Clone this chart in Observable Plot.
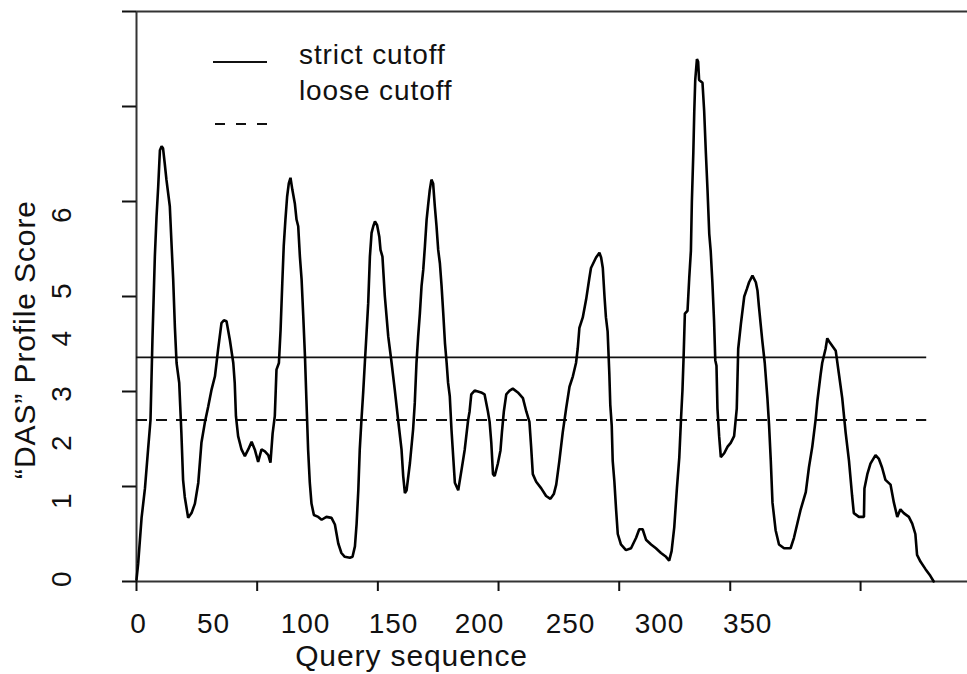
<!DOCTYPE html>
<html>
<head>
<meta charset="utf-8">
<script src="https://cdn.jsdelivr.net/npm/d3@7"></script>
<script src="https://cdn.jsdelivr.net/npm/@observablehq/plot@0.6"></script>
<style>
  html, body { margin: 0; padding: 0; background: #fff; }
  svg text { letter-spacing: 0.9px; }
</style>
</head>
<body>
<div id="chart"></div>
<script>
// ---- data (residue position along query sequence, DAS profile score) ----
const residue = [
  0, 0.7, 2.1, 3.5, 4.8, 5.8, 6.6, 7.6, 8.3, 9.0,
  9.7, 10.4, 11.0, 11.7, 12.4, 13.8, 14.5, 15.2, 15.9, 16.6,
  17.7, 18.6, 19.3, 20.0, 21.4, 22.8, 24.2, 25.6, 26.9, 28.3,
  29.7, 31.1, 32.5, 33.8, 35.2, 36.2, 37.3, 38.7, 40.1, 40.7,
  41.2, 42.1, 43.5, 44.9, 46.3, 47.7, 49.0, 50.4, 51.8, 53.2,
  54.6, 55.5, 56.4, 57.3, 58.0, 59.0, 59.7, 60.4, 61.0, 61.7,
  62.4, 63.1, 63.8, 64.6, 65.6, 66.3, 67.0, 67.7, 68.4, 69.1,
  69.8, 70.4, 71.1, 71.8, 72.5, 73.5, 75.3, 76.7, 78.7, 80.8,
  82.2, 83.6, 84.9, 86.3, 88.4, 89.5, 90.5, 91.2, 91.9, 92.5,
  93.2, 93.9, 94.6, 95.3, 96.0, 96.7, 97.4, 98.1, 98.8, 99.7,
  100.6, 101.1, 101.9, 102.9, 103.6, 104.3, 105.7, 107.0, 108.4, 109.8,
  110.5, 111.2, 111.9, 113.3, 114.6, 115.3, 116.0, 116.7, 117.4, 118.1,
  118.8, 119.5, 120.2, 120.9, 121.5, 122.2, 122.9, 123.6, 124.3, 125.0,
  125.7, 126.4, 127.1, 127.8, 128.5, 129.1, 129.8, 130.5, 131.2, 131.9,
  133.3, 134.7, 136.0, 137.4,
  138.0, 138.7, 140.1, 142.8, 144.2, 145.6, 146.3, 147.0, 147.7, 148.4,
  149.7, 150.8, 151.4, 152.2, 153.2, 154.6, 155.9, 158.0, 160.1, 161.5,
  162.8, 163.5, 164.2, 165.6, 167.7, 169.7, 171.5, 172.9, 173.9, 175.2,
  176.6, 178.0, 179.4, 180.8, 182.1, 182.8, 183.5, 184.9, 186.3, 187.6,
  188.3, 190.4, 191.8, 192.5, 193.2, 193.9, 194.5, 195.2, 195.9, 196.3,
  196.9, 197.3, 198.0, 198.7, 199.4, 200.7, 202.8, 204.9, 207.0, 208.3,
  209.7, 211.1, 213.2, 215.2, 217.3, 219.4, 220.7, 221.7, 222.8, 223.9,
  224.9, 225.6, 226.2, 226.7, 227.2, 228.3, 229.0, 229.7, 230.1, 230.7,
  231.1, 231.5, 232.2, 232.7, 233.1, 234.5, 235.2, 235.9, 236.6, 237.3,
  237.9, 238.6, 239.3, 239.8, 240.3, 240.7, 241.4, 242.1, 243.5, 244.9,
  246.2, 247.6, 248.7, 249.3, 250.4, 251.8, 252.9, 253.8, 255.2, 256.6,
  257.3, 257.9, 258.6, 259.3, 260.3, 261.4, 262.1, 262.8, 263.5, 264.8,
  266.2, 268.3, 271.0, 272.4, 273.8, 275.2, 277.3, 278.6, 280.0, 281.4,
  282.1, 283.5, 284.1, 285.5, 286.2, 286.9, 288.3, 289.7, 291.0, 292.4,
  293.8, 295.2, 296.5, 297.2, 299.3, 301.4, 301.6, 302.8, 304.1, 306.2,
  307.6, 308.9, 310.3, 312.4, 313.8, 315.2, 316.5, 317.9, 320.0, 321.4,
  322.7, 323.4, 324.8, 326.9, 328.9, 330.3
];
const score = [
  0.02, 0.19, 0.67, 0.98, 1.39, 1.70, 2.54, 3.42, 3.84, 4.16,
  4.54, 4.58, 4.56, 4.40, 4.23, 3.95, 3.56, 3.18, 2.68, 2.30,
  2.09, 1.56, 1.07, 0.89, 0.67, 0.72, 0.82, 1.04, 1.46, 1.67,
  1.84, 2.02, 2.16, 2.44, 2.72, 2.75, 2.74, 2.54, 2.30, 2.09,
  1.74, 1.53, 1.39, 1.32, 1.39, 1.47, 1.39, 1.26, 1.39, 1.37,
  1.33, 1.25, 1.56, 1.74, 2.23, 2.30, 2.65, 3.14, 3.53, 3.81,
  4.05, 4.19, 4.25, 4.12, 3.98, 3.81, 3.74, 3.42, 3.18, 2.79,
  2.37, 1.91, 1.39, 1.04, 0.82, 0.70, 0.68, 0.65, 0.68, 0.67,
  0.60, 0.40, 0.30, 0.26, 0.25, 0.26, 0.37, 0.61, 0.96, 1.39,
  1.70, 1.98, 2.30, 2.61, 2.93, 3.42, 3.67, 3.74, 3.79, 3.75,
  3.63, 3.49, 3.42, 3.00, 2.79, 2.58, 2.30, 2.02, 1.70, 1.39,
  1.11, 0.93, 0.96, 1.25, 1.60, 1.88, 2.30, 2.58, 2.82, 3.11,
  3.28, 3.53, 3.81, 3.98, 4.12, 4.23, 4.19, 3.95, 3.74, 3.49,
  3.35, 3.11, 2.82, 2.51, 2.30, 2.09, 1.95, 1.60, 1.32, 1.04,
  0.96, 1.18, 1.39, 1.70,
  1.79, 1.97, 2.01, 1.99, 1.97, 1.79, 1.68, 1.46, 1.13, 1.11,
  1.24, 1.38, 1.57, 1.79, 1.97, 2.01, 2.03, 1.99, 1.93, 1.79,
  1.68, 1.42, 1.13, 1.05, 0.98, 0.90, 0.87, 0.92, 1.02, 1.27,
  1.57, 1.82, 2.05, 2.16, 2.30, 2.45, 2.67, 2.78, 2.97, 3.19,
  3.30, 3.41, 3.46, 3.41, 3.30, 3.00, 2.78, 2.63, 2.19, 1.86,
  1.64, 1.27, 1.05, 0.76, 0.50, 0.39, 0.33, 0.35, 0.46, 0.55,
  0.55, 0.44, 0.39, 0.35, 0.30, 0.26, 0.22, 0.32, 0.57, 0.98,
  1.31, 1.71, 2.01, 2.38, 2.82, 2.85, 3.19, 3.48, 4.00, 4.51,
  4.95, 5.28, 5.50, 5.47, 5.28, 5.25, 4.95, 4.51, 4.11, 3.66,
  3.48, 3.15, 2.74, 2.33, 2.27, 1.82, 1.53, 1.31, 1.35, 1.42,
  1.46, 1.53, 1.82, 2.45, 2.71, 3.00, 3.08, 3.15, 3.22, 3.15,
  3.06, 2.89, 2.71, 2.53, 2.30, 1.93, 1.64, 1.27, 0.83, 0.54,
  0.39, 0.35, 0.35, 0.46, 0.61, 0.76, 0.94, 1.20, 1.42, 1.71,
  1.90, 2.19, 2.30, 2.45, 2.56, 2.53, 2.48, 2.43, 2.19, 1.93,
  1.57, 1.27, 0.90, 0.72, 0.68, 0.68, 0.98, 1.13, 1.24, 1.33,
  1.29, 1.20, 1.07, 1.02, 0.83, 0.68, 0.76, 0.72, 0.68, 0.61,
  0.50, 0.28, 0.21, 0.13, 0.06, 0.00
];

// cutoffs
const cutoffNames = ["strict cutoff", "loose cutoff"];
const cutoffScores = [2.36, 1.70];
const cutoffEnd = 327.4;

// axes (tick marks and tick labels as printed in the figure)
const xDomainMax = 344.3;
const yDomainMax = 6;
const xTicks = [0, 50, 100, 150, 200, 246, 300];
const xTickLabels = ["0", "50", "100", "150", "200", "250", "300", "350"];
const xTickLabelAt = [0.8, 31.9, 70.0, 106.5, 142.1, 179.8, 216.7, 253.2];
const yTicks = [0, 1, 2, 3, 4, 5, 6];
const yTickLabels = ["0", "1", "2", "3", "4", "5", "6"];
const yTickLabelAt = [0.03, 0.85, 1.46, 1.98, 2.56, 3.06, 3.86];
const xTitle = "Query sequence";
const yTitle = "\u201cDAS\u201d Profile Score";

// ---- build ----
const profile = residue.map((r, i) => ({residue: r, score: score[i]}));
const cutoffs = cutoffNames.map((n, i) => ({name: n, score: cutoffScores[i]}));
const xLabels = xTickLabels.map((t, i) => ({t, at: xTickLabelAt[i]}));
const yLabels = yTickLabels.map((t, i) => ({t, at: yTickLabelAt[i]}));

const FONT = "'Liberation Sans', Arial, Helvetica, sans-serif";
const INK = "#111";

function legendMark() {
  const g = d3.create("svg:g");
  g.append("line").attr("x1", 213).attr("x2", 267).attr("y1", 62).attr("y2", 62)
    .attr("stroke", INK).attr("stroke-width", 2);
  g.append("line").attr("x1", 215).attr("x2", 267).attr("y1", 124).attr("y2", 124)
    .attr("stroke", INK).attr("stroke-width", 2).attr("stroke-dasharray", "10,11");
  g.selectAll("text.lg").data(cutoffNames).join("text")
    .attr("class", "lg")
    .attr("x", 299).attr("y", (d, i) => 64 + i * 36)
    .attr("text-anchor", "start")
    .attr("font-size", 28).attr("font-family", FONT).attr("fill", INK)
    .text(d => d);
  return g.node();
}

const chart = Plot.plot({
  width: 967,
  height: 674,
  marginLeft: 136,
  marginRight: 0,
  marginTop: 11,
  marginBottom: 93,
  style: {fontFamily: FONT, fontSize: "28px", color: INK, background: "#fff"},
  x: {domain: [0, xDomainMax]},
  y: {domain: [0, yDomainMax]},
  marks: [
    // frame (top, bottom, left)
    Plot.ruleY([0, yDomainMax], {stroke: "#333", strokeWidth: 2}),
    Plot.ruleX([0], {stroke: "#333", strokeWidth: 2}),
    // tick marks
    Plot.axisX(xTicks, {anchor: "bottom", tickSize: 10, tickFormat: () => "", strokeWidth: 2, label: null}),
    Plot.axisY(yTicks, {anchor: "left", tickSize: 14, tickFormat: () => "", strokeWidth: 2, label: null}),
    // tick labels
    Plot.text(xLabels, {x: "at", text: "t", frameAnchor: "bottom", dy: 51, fontSize: 28, fill: INK}),
    Plot.text(yLabels, {y: "at", text: "t", frameAnchor: "left", textAnchor: "middle", lineAnchor: "middle", dx: -74, rotate: -90, fontSize: 28, fill: INK}),
    // axis titles
    Plot.text([xTitle], {text: d => d, frameAnchor: "bottom-left", textAnchor: "middle", dx: 275, dy: 84, fontSize: 30, fill: INK}),
    Plot.text([yTitle], {text: d => d, frameAnchor: "left", textAnchor: "middle", lineAnchor: "middle", dx: -111, dy: 43, rotate: -90, fontSize: 30, fill: INK}),
    // cutoffs
    Plot.ruleY(cutoffs.filter((d, i) => i === 0), {y: "score", x1: () => residue[0], x2: () => cutoffEnd, stroke: INK, strokeWidth: 1.8}),
    Plot.ruleY(cutoffs.filter((d, i) => i === 1), {y: "score", x1: () => residue[0], x2: () => cutoffEnd, stroke: INK, strokeWidth: 1.8, strokeDasharray: "11,9"}),
    // profile
    Plot.line(profile, {x: "residue", y: "score", stroke: "#000", strokeWidth: 2.6, strokeLinejoin: "miter"}),
    legendMark
  ]
});

document.getElementById("chart").appendChild(chart);
</script>
</body>
</html>
